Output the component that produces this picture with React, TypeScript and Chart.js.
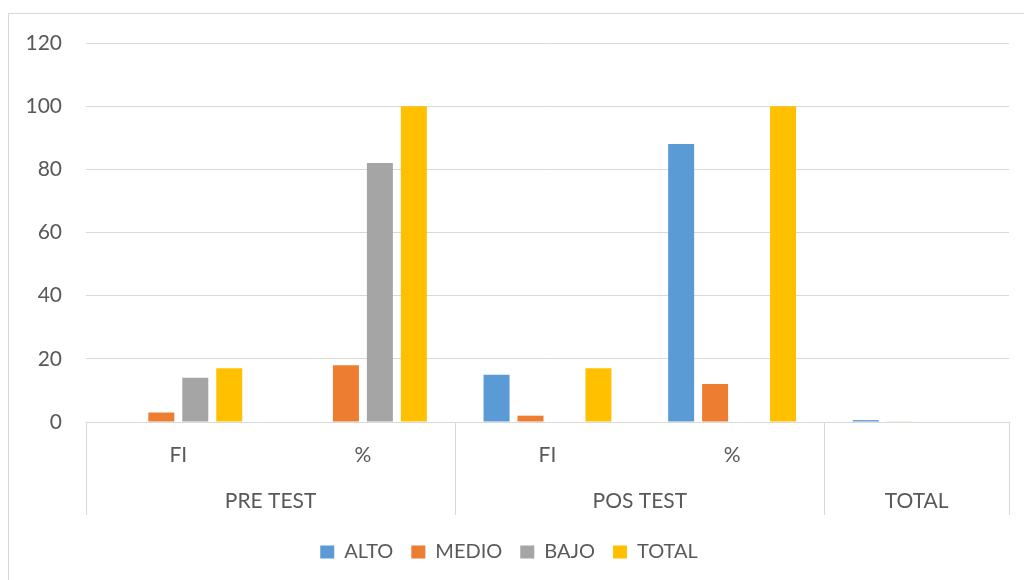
import React, { useEffect, useRef } from "react";
import { Chart, registerables } from "chart.js";

Chart.register(...registerables);

const categories = ["FI", "%", "FI", "%", ""];
const groups = ["PRE TEST", "POS TEST", "TOTAL"];
const groupSpans = [2, 2, 1];
const alto = [0, 0, 15, 88, 0.6];
const medio = [3, 18, 2, 12, 0.2];
const bajo = [14, 82, 0, 0, 0];
const total = [17, 100, 17, 100, 0];
const yTicks = [0, 20, 40, 60, 80, 100, 120];

const FONT = "Lato, 'Liberation Sans', sans-serif";
const TEXT = "#595959";
const GRID = "#d9d9d9";

const groupPlugin = {
  id: "groupLabels",
  afterDraw(chart: any) {
    const ctx = chart.ctx;
    const x = chart.scales.x;
    const area = chart.chartArea;
    const n = categories.length;
    const boundary = (i: number) => {
      if (i <= 0) return area.left;
      if (i >= n) return area.right;
      return (x.getPixelForValue(i - 1) + x.getPixelForValue(i)) / 2;
    };
    ctx.save();
    ctx.strokeStyle = GRID;
    ctx.lineWidth = 1;
    ctx.fillStyle = TEXT;
    ctx.font = `21px ${FONT}`;
    ctx.textAlign = "center";
    ctx.textBaseline = "middle";
    let start = 0;
    const edges: number[] = [boundary(0)];
    groups.forEach((g, gi) => {
      const end = start + groupSpans[gi];
      const l = boundary(start);
      const r = boundary(end);
      edges.push(r);
      ctx.fillText(g, (l + r) / 2, area.bottom + 79);
      start = end;
    });
    edges.forEach((e) => {
      const px = Math.round(e) + 0.5;
      ctx.beginPath();
      ctx.moveTo(px, area.bottom);
      ctx.lineTo(px, area.bottom + 93);
      ctx.stroke();
    });
    ctx.restore();
  },
};

export default function App() {
  const ref = useRef<HTMLCanvasElement | null>(null);
  useEffect(() => {
    if (!ref.current) return;
    const mk = (label: string, data: number[], color: string) => ({
      label,
      data,
      backgroundColor: color,
      borderWidth: 0,
      barPercentage: 0.765,
      categoryPercentage: 0.736,
    });
    const chart = new Chart(ref.current, {
      type: "bar",
      data: {
        labels: categories,
        datasets: [
          mk("ALTO", alto, "#5B9BD5"),
          mk("MEDIO", medio, "#ED7D31"),
          mk("BAJO", bajo, "#A5A5A5"),
          mk("TOTAL", total, "#FFC000"),
        ],
      },
      options: {
        animation: false,
        responsive: false,
        maintainAspectRatio: false,
        layout: { padding: { left: 0, right: 15, top: 29, bottom: 8 } },
        plugins: {
          legend: {
            position: "bottom",
            labels: {
              boxWidth: 14,
              boxHeight: 13,
              padding: 18,
              color: TEXT,
              font: { family: FONT, size: 20 },
            },
          },
          tooltip: { enabled: false },
        },
        scales: {
          x: {
            grid: { display: false, drawTicks: false },
            border: { display: true, color: GRID, width: 1 },
            ticks: {
              color: TEXT,
              font: { family: FONT, size: 21 },
              padding: 21,
              maxRotation: 0,
              autoSkip: false,
            },
            afterFit: (s: any) => {
              s.height = 102;
            },
          },
          y: {
            min: 0,
            max: 120,
            afterBuildTicks: (s: any) => {
              s.ticks = yTicks.map((v) => ({ value: v }));
            },
            grid: { color: GRID, drawTicks: false, lineWidth: 1 },
            border: { display: false },
            ticks: {
              color: TEXT,
              font: { family: FONT, size: 21 },
              padding: 24,
            },
            afterFit: (s: any) => {
              s.width = 77;
              s.paddingTop = 0;
              s.paddingBottom = 0;
            },
          },
        },
      },
      plugins: [groupPlugin],
    } as any);
    return () => chart.destroy();
  }, []);
  return (
    <div
      style={{
        position: "absolute",
        left: 8,
        top: 13,
        width: 1016,
        height: 567,
        boxSizing: "border-box",
        borderTop: "1px solid #d9d9d9",
        borderLeft: "1px solid #d9d9d9",
        background: "#fff",
      }}
    >
      <canvas ref={ref} width={1015} height={566} style={{ display: "block" }} />
    </div>
  );
}
